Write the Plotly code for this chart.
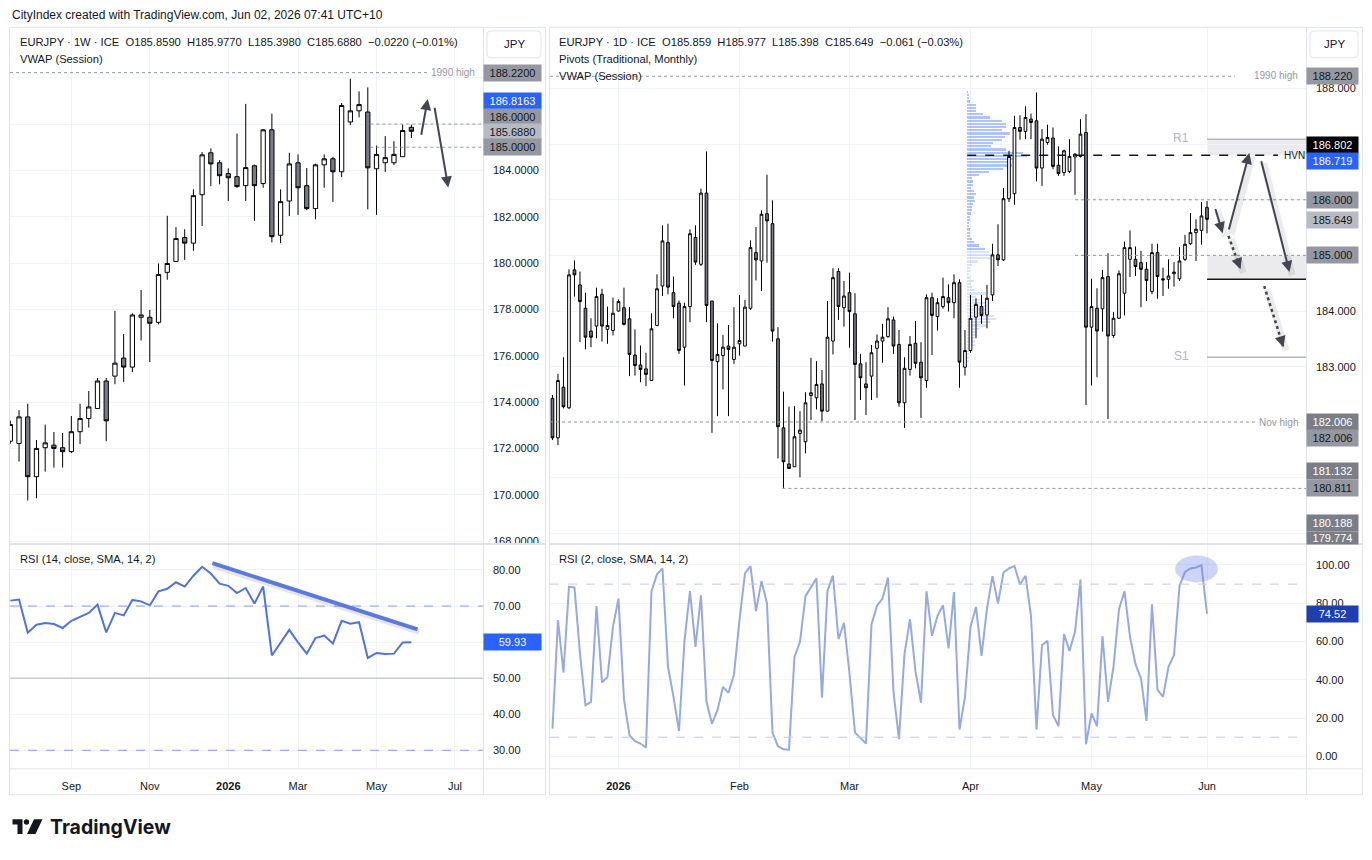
import plotly.graph_objects as go
import pandas as pd

W, H = 1372, 860
def px(x): return x / W
def py(y): return 1 - y / H

FONT = "Liberation Sans"
TXT = "#131722"
GRID = "#f0f3fa"
BORDER = "#e0e3eb"
UP_FILL = "#ffffff"
DN_FILL = "#787b86"
WICK = "#000000"
ARROW = "#434651"
FS = 11

# ---------------- Weekly EURJPY ----------------
weekly_dates = pd.date_range("2025-07-14", periods=47, freq="W-MON")
w_open = [172.31, 172.21, 173.36, 170.78, 172.03, 172.14, 172.03, 171.86, 172.72, 173.29,
          173.72, 174.91, 175.12, 175.90, 175.51, 177.66, 177.66, 177.44, 179.60, 180.07,
          181.10, 180.86, 182.95, 184.76, 184.33, 183.86, 183.73, 183.34, 184.20, 183.43,
          185.75, 181.20, 182.68, 184.33, 183.34, 182.35, 184.24, 184.50, 183.94, 186.09,
          186.57, 186.52, 184.07, 184.33, 184.33, 184.59, 185.859]
w_high = [173.20, 173.65, 173.93, 172.36, 173.03, 172.71, 172.67, 173.40, 173.93, 174.48,
          175.04, 175.04, 177.94, 176.94, 177.83, 178.84, 177.98, 179.98, 182.04, 181.55,
          181.46, 183.18, 184.79, 184.95, 184.44, 184.09, 185.59, 186.87, 184.25, 185.79,
          186.45, 183.18, 184.76, 184.69, 184.10, 184.29, 184.69, 184.59, 186.91, 187.96,
          187.41, 187.58, 185.07, 185.48, 185.26, 185.98, 185.977]
w_low = [172.20, 171.43, 169.75, 169.85, 171.00, 171.17, 171.17, 171.80, 172.19, 172.90,
         173.72, 172.31, 174.77, 174.87, 175.29, 176.66, 175.73, 177.35, 179.28, 180.07,
         180.14, 180.53, 181.60, 183.32, 183.40, 182.68, 183.25, 182.68, 181.82, 183.25,
         180.89, 180.86, 182.03, 182.08, 182.29, 181.89, 183.25, 182.64, 183.71, 185.95,
         186.29, 182.32, 182.08, 183.93, 184.23, 184.59, 185.398]
w_close = [173.03, 173.36, 170.78, 172.00, 172.24, 172.00, 171.86, 172.72, 173.29, 173.79,
           174.91, 173.19, 175.68, 175.51, 177.76, 177.76, 177.40, 179.51, 179.98, 181.06,
           180.86, 182.91, 184.67, 184.28, 183.77, 183.68, 183.30, 184.12, 183.34, 185.75,
           181.14, 182.65, 184.28, 183.25, 182.35, 184.24, 184.50, 183.94, 186.80, 186.57,
           186.84, 184.11, 184.69, 184.55, 184.69, 185.72, 185.688]
w_rsi = [71.5, 71.8, 62.6, 64.8, 65.3, 65.0, 63.9, 65.9, 67.0, 68.1,
         70.4, 62.7, 68.1, 67.4, 71.7, 71.3, 70.2, 74.1, 74.8, 76.6,
         75.4, 78.4, 80.9, 79.0, 76.2, 75.6, 73.6, 75.0, 70.7, 75.4,
         56.3, 59.7, 63.4, 59.9, 56.8, 61.1, 61.8, 59.6, 65.9, 65.1,
         65.5, 55.6, 57.0, 56.7, 56.8, 59.9, 59.93]

w_tick_vals = ["2025-09-01", "2025-11-03", "2026-01-05", "2026-03-02", "2026-05-04", "2026-07-06"]
w_tick_text = ["Sep", "Nov", "<b>2026</b>", "Mar", "May", "Jul"]
w_price_ticks = [168, 170, 172, 174, 176, 178, 180, 182, 184, 186, 188]
w_price_text = ["168.0000", "170.0000", "172.0000", "174.0000", "176.0000", "178.0000",
                "180.0000", "182.0000", "184.0000", "", ""]
w_rsi_ticks = [30, 40, 50, 60, 70, 80]
w_rsi_text = ["30.00", "40.00", "50.00", "", "70.00", "80.00"]

# weekly levels
HIGH_1990 = 188.22
W_VWAP = 186.8163
LVL_186 = 186.0
LVL_185 = 185.0

# ---------------- Daily EURJPY ----------------
daily_dates = pd.bdate_range("2025-12-16", "2026-06-01")
d_open = [182.43, 181.72, 182.63, 182.26, 184.74, 184.47, 184.05, 183.64, 183.73, 184.30,
          183.67, 183.65, 184.00, 184.06, 183.86, 183.21, 183.03, 182.96, 182.75, 183.74,
          184.45, 185.23, 184.33, 184.14, 183.35, 184.08, 185.32, 184.84, 186.12, 184.18,
          183.09, 183.20, 183.37, 183.13, 183.41, 183.37, 184.05, 185.05, 184.90, 185.75,
          185.57, 183.50, 181.90, 181.25, 181.20, 181.80, 181.65, 182.48, 182.44, 182.69,
          182.20, 183.46, 184.71, 184.06, 184.33, 183.95, 183.05, 182.69, 182.83, 183.33,
          183.46, 183.54, 183.84, 183.40, 182.35, 182.95, 183.42, 183.08, 182.75, 184.24,
          183.90, 184.08, 184.24, 184.15, 184.51, 182.99, 183.29, 183.89, 184.08, 183.93,
          184.29, 185.01, 184.92, 186.02, 186.11, 187.30, 187.23, 187.45, 187.42, 186.57,
          187.03, 187.11, 186.62, 186.49, 186.51, 186.77, 186.78, 187.21, 183.71, 184.05,
          184.04, 184.62, 183.56, 183.87, 184.32, 184.93, 184.93, 184.87, 184.75, 184.35,
          185.05, 184.58, 184.57, 184.67, 184.58, 184.93, 185.21, 185.41, 185.45, 185.859]
d_high = [182.49, 182.87, 183.17, 184.75, 184.91, 184.71, 184.33, 183.87, 184.42, 184.40,
          184.08, 184.24, 184.21, 184.42, 184.07, 183.67, 183.38, 183.25, 183.96, 184.66,
          185.54, 185.57, 184.62, 184.19, 184.15, 185.47, 185.54, 186.20, 186.87, 184.18,
          183.78, 183.57, 183.75, 184.07, 184.29, 184.20, 185.27, 185.51, 185.81, 186.45,
          185.99, 183.71, 182.55, 182.28, 182.29, 182.20, 182.54, 183.16, 183.10, 182.94,
          184.18, 184.77, 184.77, 184.54, 184.69, 184.32, 183.23, 183.08, 183.39, 183.58,
          183.77, 184.07, 183.90, 183.66, 183.17, 183.55, 183.82, 183.44, 184.30, 184.33,
          184.23, 184.60, 184.48, 184.66, 184.57, 183.66, 184.29, 184.23, 184.29, 184.47,
          185.21, 185.56, 186.21, 186.88, 187.51, 187.52, 187.68, 187.55, 187.93, 187.27,
          187.35, 187.30, 186.96, 186.90, 187.09, 186.84, 187.45, 187.54, 184.58, 184.41,
          184.74, 185.04, 183.98, 184.73, 185.25, 185.45, 185.16, 185.08, 184.88, 185.21,
          185.21, 184.78, 184.93, 184.88, 185.15, 185.37, 185.76, 185.65, 185.96, 185.977]
d_low = [181.68, 181.59, 182.25, 182.24, 184.26, 183.44, 183.31, 183.35, 183.51, 183.45,
         183.41, 183.56, 183.99, 183.74, 182.83, 182.84, 182.72, 182.65, 182.75, 183.74,
         184.27, 184.30, 183.87, 183.23, 182.66, 183.80, 184.83, 184.81, 183.80, 181.81,
         182.11, 182.59, 182.11, 183.05, 183.20, 183.37, 184.02, 184.55, 184.36, 184.87,
         183.45, 181.35, 180.82, 181.16, 181.20, 181.01, 181.44, 182.04, 182.23, 182.02,
         182.20, 183.22, 183.84, 183.72, 183.34, 182.04, 182.40, 182.13, 182.40, 182.44,
         183.07, 183.52, 183.23, 182.28, 181.90, 182.84, 182.97, 182.08, 182.62, 183.21,
         183.65, 184.04, 183.99, 183.87, 182.62, 182.84, 183.25, 183.51, 183.77, 183.69,
         184.18, 184.81, 184.90, 185.96, 185.91, 187.08, 187.09, 187.09, 186.33, 186.25,
         186.99, 186.55, 186.43, 186.43, 186.48, 186.09, 186.76, 182.31, 182.66, 182.81,
         183.63, 182.06, 183.52, 183.86, 183.92, 184.61, 184.63, 184.07, 184.18, 184.30,
         184.22, 184.27, 184.40, 184.44, 184.54, 184.90, 185.19, 184.90, 185.19, 185.398]
d_close = [181.72, 182.75, 182.28, 184.65, 184.65, 184.17, 183.53, 183.53, 184.26, 183.73,
           183.74, 183.96, 184.17, 183.76, 183.22, 183.02, 182.95, 182.86, 183.68, 184.40,
           185.26, 184.43, 184.08, 183.29, 184.08, 185.39, 184.88, 186.12, 184.10, 183.11,
           183.22, 183.35, 183.31, 183.35, 183.47, 184.07, 185.14, 184.92, 185.74, 185.62,
           183.64, 181.92, 181.29, 181.17, 181.74, 181.86, 182.35, 182.53, 182.68, 182.20,
           183.53, 184.60, 184.08, 184.27, 183.99, 183.04, 182.80, 182.62, 183.25, 183.46,
           183.53, 183.86, 183.37, 182.35, 182.97, 183.40, 183.06, 182.80, 184.24, 183.92,
           184.15, 184.26, 184.15, 184.51, 183.08, 183.29, 183.87, 184.12, 183.92, 184.23,
           185.01, 184.92, 186.02, 186.78, 187.30, 187.23, 187.48, 187.39, 186.57, 187.09,
           187.12, 186.60, 186.47, 186.88, 186.78, 186.82, 187.18, 183.71, 184.08, 183.64,
           184.60, 183.55, 183.87, 184.67, 185.14, 185.14, 184.80, 184.75, 184.55, 185.05,
           184.62, 184.56, 184.63, 184.70, 184.90, 185.20, 185.41, 185.47, 185.71, 185.649]
d_rsi = [14.5, 71.2, 43.8, 88.6, 88.3, 53.7, 26.7, 28.5, 78.5, 38.6,
         41.5, 67.7, 82.5, 29.9, 11.0, 7.9, 6.7, 4.6, 86.3, 95.1,
         98.2, 46.8, 31.1, 13.3, 60.4, 86.3, 57.2, 84.2, 28.5, 17.1,
         24.1, 36.3, 33.2, 42.8, 71.2, 95.6, 99.4, 75.9, 91.6, 79.9,
         12.4, 5.3, 3.7, 3.5, 52.0, 59.8, 83.7, 88.6, 93.0, 30.7,
         86.5, 94.4, 61.2, 69.8, 43.3, 12.4, 9.7, 6.7, 68.9, 78.7,
         82.5, 93.5, 33.7, 9.0, 53.4, 71.7, 44.5, 28.0, 86.3, 63.0,
         73.4, 79.0, 56.4, 85.8, 14.0, 31.1, 67.7, 78.1, 52.5, 77.3,
         94.2, 79.9, 96.1, 98.2, 99.4, 89.8, 94.4, 73.4, 14.0, 58.1,
         60.4, 21.5, 15.8, 63.9, 55.1, 65.1, 92.4, 6.3, 22.4, 15.8,
         62.8, 28.5, 46.8, 76.9, 86.3, 62.5, 48.2, 40.7, 18.5, 79.4,
         34.9, 31.1, 46.8, 52.9, 89.0, 96.4, 98.2, 98.7, 99.9, 74.52]
n_d = min(len(daily_dates), len(d_open), len(d_high), len(d_low), len(d_close), len(d_rsi))
d_idx = list(range(n_d))

d_tick_months = ["2026-01", "2026-02", "2026-03", "2026-04", "2026-05", "2026-06"]
d_tick_text = ["<b>2026</b>", "Feb", "Mar", "Apr", "May", "Jun"]
d_tick_vals = [int((daily_dates[:n_d] >= pd.Timestamp(m + "-01")).argmax()) for m in d_tick_months]
d_price_ticks = [180, 181, 182, 183, 184, 185, 186, 187, 188]
d_price_text = ["", "", "", "183.000", "184.000", "", "", "", "188.000"]
d_rsi_ticks = [0, 20, 40, 60, 80, 100]
d_rsi_text = ["0.00", "20.00", "40.00", "60.00", "80.00", "100.00"]

# daily levels
R1 = 187.09
HVN = 186.80
S1 = 183.17
ZONE_LOW = 184.57
NOV_HIGH = 182.006
FEB_LOW = 180.811

# volume profile (visible range), rows from top to bottom
vp_top = 187.94
vp_step = 0.0575
vp_volume = [1.0, 1.7, 2.3, 3.3, 9.3, 9.3, 9.3, 16.0, 23.3, 35.3,
             39.0, 39.0, 35.3, 43.3, 38.0, 35.3, 26.0, 24.3, 39.3, 56.0,
             60.0, 46.7, 42.7, 45.0, 36.0, 22.3, 12.3, 5.3, 6.3, 6.3,
             4.0, 7.3, 9.0, 7.3, 8.3, 5.7, 4.7, 5.3, 4.0, 3.3,
             3.3, 2.3, 2.3, 2.7, 3.3, 3.3, 5.3, 7.0, 12.3, 18.0,
             22.0, 24.3, 26.0, 11.0, 5.3, 3.3, 3.3, 2.3, 3.0, 7.3,
             4.0, 4.7, 8.3, 19.0, 9.3, 12.7, 19.3, 20.0, 17.7, 20.0,
             27.3, 29.3, 24.3, 20.0, 12.3, 10.0, 10.0, 8.3, 7.7, 8.3,
             5.3, 2.3, 1.7, 2.3, 2.0]
vp_value_area_rows = 50
vp_prices = [vp_top - k * vp_step for k in range(len(vp_volume))]
VP_START = 75.4      # bar index where the profile is anchored
VP_MAX_BARS = 10.9   # width of POC in bars
vp_len = [v / max(vp_volume) * VP_MAX_BARS for v in vp_volume]
vp_colors = ["rgba(41,98,255,0.38)" if k < vp_value_area_rows else "rgba(41,98,255,0.18)"
             for k in range(len(vp_volume))]

W_XRANGE = ["2025-07-13 18:00", "2026-07-28 12:00"]
D_XRANGE = [-0.45, 137.0]

fig = go.Figure()

fig.add_trace(go.Candlestick(
    x=weekly_dates, open=w_open, high=w_high, low=w_low, close=w_close,
    xaxis="x", yaxis="y",
    increasing=dict(fillcolor=UP_FILL, line=dict(color=WICK, width=1)),
    decreasing=dict(fillcolor=DN_FILL, line=dict(color=WICK, width=1)),
    whiskerwidth=0, showlegend=False, hoverinfo="skip"))
fig.add_trace(go.Scatter(x=weekly_dates, y=w_rsi, xaxis="x", yaxis="y2", mode="lines",
                         line=dict(color="#4f72e0", width=2), showlegend=False, hoverinfo="skip"))

fig.add_trace(go.Bar(y=vp_prices, x=vp_len, base=VP_START, orientation="h", width=vp_step * 0.68,
                     marker=dict(color=vp_colors, line=dict(width=0)),
                     xaxis="x2", yaxis="y3", showlegend=False, hoverinfo="skip"))
fig.add_trace(go.Candlestick(
    x=d_idx, open=d_open[:n_d], high=d_high[:n_d], low=d_low[:n_d], close=d_close[:n_d],
    xaxis="x2", yaxis="y3",
    increasing=dict(fillcolor=UP_FILL, line=dict(color=WICK, width=1)),
    decreasing=dict(fillcolor=DN_FILL, line=dict(color=WICK, width=1)),
    whiskerwidth=0, showlegend=False, hoverinfo="skip"))
fig.add_trace(go.Scatter(x=d_idx, y=d_rsi[:n_d], xaxis="x2", yaxis="y4", mode="lines",
                         line=dict(color="#97aadd", width=2), showlegend=False, hoverinfo="skip"))

tickfont = dict(family=FONT, size=FS, color=TXT)
common_y = dict(side="right", showgrid=True, gridcolor=GRID, zeroline=False, showline=False,
                ticks="", tickfont=tickfont, fixedrange=True, ticklabelstandoff=9)
common_x = dict(showgrid=True, gridcolor=GRID, zeroline=False, showline=False, ticks="",
                tickfont=tickfont, fixedrange=True, ticklabelstandoff=10, rangeslider=dict(visible=False))

fig.update_layout(
    width=W, height=H, margin=dict(l=0, r=0, t=0, b=0),
    paper_bgcolor="white", plot_bgcolor="white",
    font=dict(family=FONT, color=TXT), showlegend=False, bargap=0,
    xaxis=dict(domain=[px(10), px(483)], type="date", range=W_XRANGE, anchor="y2",
               tickmode="array", tickvals=w_tick_vals, ticktext=w_tick_text, **common_x),
    yaxis=dict(domain=[py(546), py(28)], range=[167.87, 190.15], anchor="x",
               tickmode="array", tickvals=w_price_ticks, ticktext=w_price_text, **common_y),
    yaxis2=dict(domain=[py(771), py(547)], range=[25.0, 86.9], anchor="x",
                tickmode="array", tickvals=w_rsi_ticks, ticktext=w_rsi_text, **common_y),
    xaxis2=dict(domain=[px(550), px(1306)], type="linear", range=D_XRANGE, anchor="y4",
                tickmode="array", tickvals=d_tick_vals, ticktext=d_tick_text, **common_x),
    yaxis3=dict(domain=[py(546), py(28)], range=[179.81, 189.09], anchor="x2",
                tickmode="array", tickvals=d_price_ticks, ticktext=d_price_text, **common_y),
    yaxis4=dict(domain=[py(771), py(547)], range=[-6.25, 110.4], anchor="x2",
                tickmode="array", tickvals=d_rsi_ticks, ticktext=d_rsi_text, **common_y),
)

shapes = []
def pline(x0, y0, x1, y1, color=BORDER, width=1):
    shapes.append(dict(type="line", xref="paper", yref="paper", x0=px(x0), y0=py(y0),
                       x1=px(x1), y1=py(y1), line=dict(color=color, width=width)))

for (l, r, ax) in [(9.5, 545.5, 483.5), (549.5, 1362.5, 1306.5)]:
    pline(l, 27.5, r, 27.5); pline(l, 797.5, r, 797.5)
    pline(l, 27.5, l, 797.5); pline(r, 27.5, r, 797.5)
    pline(ax, 27.5, ax, 797.5)
    pline(l, 546, r, 546, width=2)
    pline(l, 771.5, r, 771.5)

def rr_path(x0, y0, x1, y1, r=4):
    X = lambda v: px(v); Y = lambda v: py(v)
    return (f"M {X(x0+r)} {Y(y0)} L {X(x1-r)} {Y(y0)} Q {X(x1)} {Y(y0)} {X(x1)} {Y(y0+r)} "
            f"L {X(x1)} {Y(y1-r)} Q {X(x1)} {Y(y1)} {X(x1-r)} {Y(y1)} L {X(x0+r)} {Y(y1)} "
            f"Q {X(x0)} {Y(y1)} {X(x0)} {Y(y1-r)} L {X(x0)} {Y(y0+r)} Q {X(x0)} {Y(y0)} {X(x0+r)} {Y(y0)} Z")

for (x0, x1) in [(487, 541), (1310, 1358)]:
    shapes.append(dict(type="path", xref="paper", yref="paper", path=rr_path(x0, 31, x1, 58),
                       line=dict(color=BORDER, width=1), fillcolor="white"))

shapes.append(dict(type="line", xref="x domain", yref="y", x0=0, x1=(428 - 10) / 473,
                   y0=HIGH_1990, y1=HIGH_1990, line=dict(color="#9598a1", width=1, dash="dot")))
for lv in (LVL_186, LVL_185):
    shapes.append(dict(type="line", xref="x", yref="y", x0="2026-04-29", x1=W_XRANGE[1],
                       y0=lv, y1=lv, line=dict(color="#9598a1", width=1, dash="dot")))

for lv in (70, 30):
    shapes.append(dict(type="line", xref="x domain", yref="y2", x0=0, x1=1, y0=lv, y1=lv,
                       line=dict(color="rgba(41,98,255,0.6)", width=1, dash="dash")))
shapes.append(dict(type="line", xref="x domain", yref="y2", x0=0, x1=1, y0=50, y1=50,
                   line=dict(color="#b2b5be", width=1)))
shapes.append(dict(type="line", xref="x", yref="y2", x0="2025-12-24 12:00", y0=81.2,
                   x1="2026-06-07 06:00", y1=62.8, line=dict(color="rgba(0,0,0,0.10)", width=6)))
shapes.append(dict(type="line", xref="x", yref="y2", x0="2025-12-23 05:00", y0=81.9,
                   x1="2026-06-05 22:00", y1=63.5, line=dict(color="#5a7ae0", width=4)))

dot = dict(color="#9598a1", width=1, dash="dot")
shapes.append(dict(type="line", xref="x2 domain", yref="y3", x0=0, x1=(1235 - 550) / 756,
                   y0=HIGH_1990, y1=HIGH_1990, line=dot))
shapes.append(dict(type="line", xref="x2 domain", yref="y3", x0=0, x1=(1255 - 550) / 756,
                   y0=NOV_HIGH, y1=NOV_HIGH, line=dot))
shapes.append(dict(type="line", xref="x2", yref="y3", x0=41.8, x1=D_XRANGE[1],
                   y0=FEB_LOW, y1=FEB_LOW, line=dot))
for lv in (LVL_186, LVL_185):
    shapes.append(dict(type="line", xref="x2", yref="y3", x0=95, x1=D_XRANGE[1],
                       y0=lv, y1=lv, line=dot))
shapes.append(dict(type="rect", xref="x2", yref="y3", x0=119, x1=D_XRANGE[1], y0=HVN, y1=R1,
                   fillcolor="rgba(120,123,134,0.15)", line=dict(width=0), layer="below"))
shapes.append(dict(type="rect", xref="x2", yref="y3", x0=119, x1=D_XRANGE[1], y0=ZONE_LOW, y1=LVL_185,
                   fillcolor="rgba(120,123,134,0.15)", line=dict(width=0), layer="below"))
shapes.append(dict(type="line", xref="x2", yref="y3", x0=119, x1=D_XRANGE[1], y0=R1, y1=R1,
                   line=dict(color="#b2b5be", width=1.5)))
shapes.append(dict(type="line", xref="x2", yref="y3", x0=119, x1=D_XRANGE[1], y0=S1, y1=S1,
                   line=dict(color="#b2b5be", width=1.5)))
shapes.append(dict(type="line", xref="x2", yref="y3", x0=119, x1=D_XRANGE[1], y0=ZONE_LOW, y1=ZONE_LOW,
                   line=dict(color=TXT, width=1.5)))
shapes.append(dict(type="line", xref="x2", yref="y3", x0=VP_START, x1=131.9, y0=HVN, y1=HVN,
                   line=dict(color=TXT, width=1.5, dash="dash")))

for lv in (90, 10):
    shapes.append(dict(type="line", xref="x2 domain", yref="y4", x0=0, x1=1, y0=lv, y1=lv,
                       line=dict(color="#c3cae0", width=1, dash="dash")))
shapes.append(dict(type="circle", xref="x2", yref="y4", x0=113.2, x1=121.0, y0=90.9, y1=105.0,
                   fillcolor="rgba(110,135,235,0.35)", line=dict(width=0)))

def shadow(xref, yref, x0, y0, x1, y1, dx, dy):
    shapes.append(dict(type="line", xref=xref, yref=yref, x0=x0 + dx, y0=y0 - dy, x1=x1 + dx, y1=y1 - dy,
                       line=dict(color="rgba(0,0,0,0.08)", width=7)))

d_arrows_solid = [(120.45, 185.86, 121.85, 185.40), (122.9, 185.44, 126.7, 186.84),
                  (128.8, 186.72, 134.0, 184.70)]
d_arrows_dot = [(122.9, 185.35, 125.1, 184.75), (129.4, 184.45, 132.9, 183.35)]
for (x0, y0, x1, y1) in d_arrows_solid + d_arrows_dot:
    shadow("x2", "y3", x0, y0, x1, y1, 0.5, 0.06)
for (x0, y0, x1, y1) in d_arrows_dot:
    shapes.append(dict(type="line", xref="x2", yref="y3", x0=x0, y0=y0, x1=x1, y1=y1,
                       line=dict(color=ARROW, width=2.5, dash="dot")))

# TradingView logo glyph
shapes += [
    dict(type="path", xref="paper", yref="paper",
         path=f"M {px(12.5)} {py(822)} L {px(22.5)} {py(822)} L {px(22.5)} {py(837)} L {px(17.5)} {py(837)} "
              f"L {px(17.5)} {py(827.5)} L {px(12.5)} {py(827.5)} Z",
         fillcolor=TXT, line=dict(width=0)),
    dict(type="circle", xref="paper", yref="paper", x0=px(23.8), x1=px(29.2), y0=py(827.6), y1=py(822.2),
         fillcolor=TXT, line=dict(width=0)),
    dict(type="path", xref="paper", yref="paper",
         path=f"M {px(34)} {py(822)} L {px(42.5)} {py(822)} L {px(35.5)} {py(837)} L {px(27)} {py(837)} Z",
         fillcolor=TXT, line=dict(width=0)),
]
fig.update_layout(shapes=shapes)

ann = []
def text(x, y, s, size=FS, color=TXT, xanchor="left", family=FONT):
    ann.append(dict(x=px(x), y=py(y), xref="paper", yref="paper", text=s, showarrow=False,
                    xanchor=xanchor, yanchor="middle", font=dict(family=family, size=size, color=color)))

sp = "\u00a0\u00a0"
text(10, 15, "CityIndex created with TradingView.com, Jun 02, 2026 07:41 UTC+10", size=12)
text(18, 42, f"EURJPY · 1W · ICE{sp}O185.8590{sp}H185.9770{sp}L185.3980{sp}C185.6880{sp}−0.0220 (−0.01%)", size=11.2)
text(18, 59, "VWAP (Session)", size=11.2)
text(557, 42, f"EURJPY · 1D · ICE{sp}O185.859{sp}H185.977{sp}L185.398{sp}C185.649{sp}−0.061 (−0.03%)", size=11.2)
text(557, 59, "Pivots (Traditional, Monthly)", size=11.2)
text(557, 76, "VWAP (Session)", size=11.2)
text(18, 561, "RSI (14, close, SMA, 14, 2)", size=11.2)
text(557, 561, "RSI (2, close, SMA, 14, 2)", size=11.2)
text(514, 44, "JPY", size=11.5, xanchor="center")
text(1334, 44, "JPY", size=11.5, xanchor="center")
text(477, 73, "1990 high", size=10, color="#9598a1", xanchor="right")
text(1300, 76, "1990 high", size=10, color="#9598a1", xanchor="right")
text(1300, 424, "Nov high", size=10, color="#9598a1", xanchor="right")
text(1282, 156, "HVN", size=10, color=TXT)
text(1181, 138, "R1", size=12, color="#b2b5be", xanchor="center")
text(1181, 357, "S1", size=12, color="#b2b5be", xanchor="center")
text(48, 830, "<b>TradingView</b>", size=19.5, family="Inter")

GREY = "#9598a1"; DGREY = "#7b7e86"; LGREY = "#b8bbc3"; BLUE = "#2962ff"
labels = [
    ("y", HIGH_1990, "188.2200", GREY, TXT, 0),
    ("y", W_VWAP, "186.8163", BLUE, "white", 4.5),
    ("y", LVL_186, "186.0000", GREY, TXT, 7),
    ("y", w_close[-1], "185.6880", LGREY, TXT, -0.5),
    ("y", LVL_185, "185.0000", GREY, TXT, 0),
    ("y2", w_rsi[-1], "59.93", BLUE, "white", 0),
    ("y3", HIGH_1990, "188.220", GREY, TXT, 0),
    ("y3", 186.802, "186.802", "#000000", "white", 10),
    ("y3", 186.719, "186.719", BLUE, "white", -1.5),
    ("y3", LVL_186, "186.000", GREY, TXT, -0.5),
    ("y3", d_close[-1], "185.649", LGREY, TXT, -0.7),
    ("y3", LVL_185, "185.000", GREY, TXT, 0),
    ("y3", NOV_HIGH, "182.006", DGREY, "white", 0),
    ("y3", NOV_HIGH, "182.006", GREY, TXT, -16.5),
    ("y3", 181.132, "181.132", DGREY, "white", -0.7),
    ("y3", FEB_LOW, "180.811", GREY, TXT, 0),
    ("y3", 180.188, "180.188", DGREY, "white", 0),
    ("y4", d_rsi[-1], "74.52", "#1e3fae", "white", 0),
]
for (yr, val, s, bg, fg, ysh) in labels:
    left = yr in ("y", "y2")
    ann.append(dict(x=px(512.5 if left else 1332.5), y=val, xref="paper", yref=yr, text=s,
                    showarrow=False, xanchor="center", yanchor="middle", yshift=ysh,
                    width=57 if left else 51, height=16,
                    bgcolor=bg, borderpad=0, font=dict(family=FONT, size=FS, color=fg)))
# 179.774 sits just below the visible price range; stack it under the 180.188 label
ann.append(dict(x=px(1332.5), y=180.188, xref="paper", yref="y3", text="179.774", showarrow=False,
                xanchor="center", yanchor="top", yshift=-8, width=51, height=12, bgcolor=DGREY,
                borderpad=0, font=dict(family=FONT, size=FS, color="white"), valign="top"))

w_arrows = [("2026-06-08 17:00", 185.475, "2026-06-14 02:00", 187.08),
            ("2026-06-19 10:00", 186.77, "2026-06-30 14:00", 183.26)]
for (x0, y0, x1, y1) in w_arrows:
    ann.append(dict(x=x1, y=y1, ax=x0, ay=y0, xref="x", yref="y", axref="x", ayref="y", text="",
                    showarrow=True, arrowhead=2, arrowsize=1.1, arrowwidth=2, arrowcolor=ARROW))
for (x0, y0, x1, y1) in d_arrows_solid:
    ann.append(dict(x=x1, y=y1, ax=x0, ay=y0, xref="x2", yref="y3", axref="x2", ayref="y3", text="",
                    showarrow=True, arrowhead=2, arrowsize=1.1, arrowwidth=2, arrowcolor=ARROW))
for (x0, y0, x1, y1), (axp, ayp) in zip(d_arrows_dot, [(-2.4, -6.6), (-2.1, -6.7)]):
    ann.append(dict(x=x1, y=y1, ax=axp, ay=ayp, xref="x2", yref="y3", text="",
                    showarrow=True, arrowhead=2, arrowsize=1.1, arrowwidth=2, arrowcolor=ARROW))

fig.update_layout(annotations=ann)
fig.write_html("out.html")
